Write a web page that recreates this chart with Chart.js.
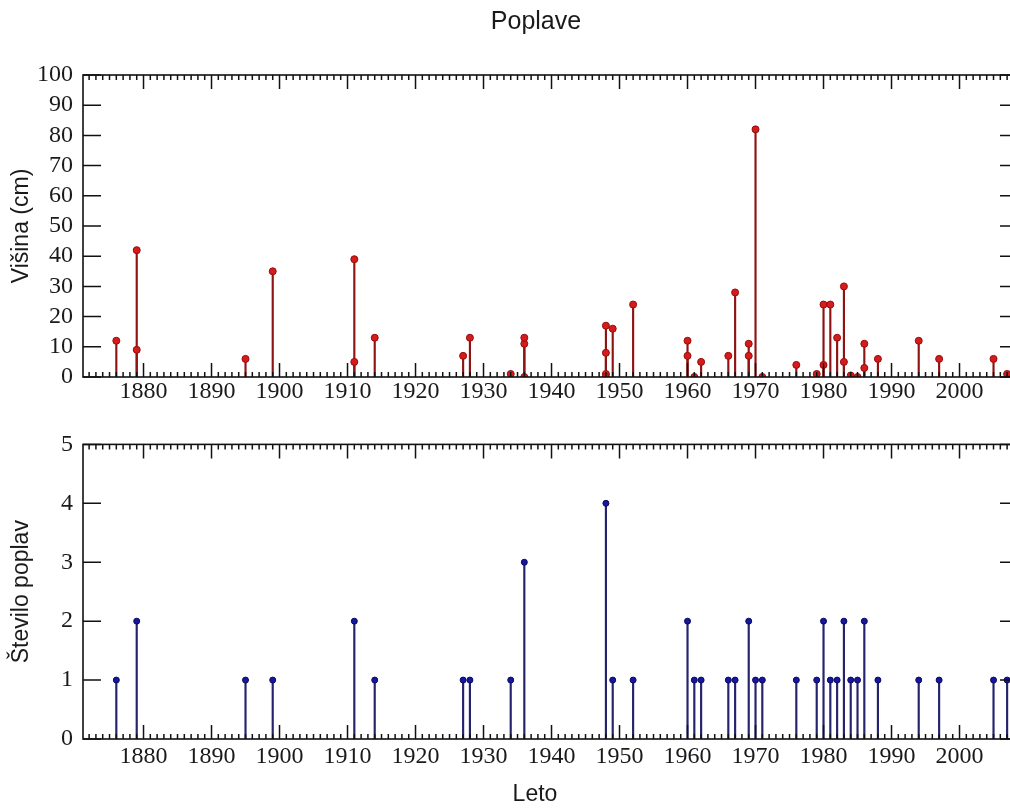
<!DOCTYPE html>
<html><head><meta charset="utf-8">
<script src="https://cdn.jsdelivr.net/npm/chart.js@4.4.1/dist/chart.umd.min.js"></script>
<style>
html,body{margin:0;padding:0;background:#fff;overflow:hidden;width:1010px;height:809px;}
#wrap{position:relative;width:1030px;height:809px;}
canvas{position:absolute;left:0;}
#c1{top:0}
#c2{top:420px}
</style></head><body>
<div id="wrap"><canvas id="c1" width="1030" height="420" style="width:1030px;height:420px"></canvas><canvas id="c2" width="1030" height="389" style="width:1030px;height:389px"></canvas></div>
<script>
// ---- data ----
const floodYears   = [1876,1879,1879,1895,1899,1911,1911,1914,1927,1928,1934,1936,1936,1936,1948,1948,1948,1948,1949,1952,1960,1960,1961,1962,1966,1967,1969,1969,1970,1971,1976,1979,1980,1980,1981,1982,1983,1983,1984,1985,1986,1986,1988,1994,1997,2005,2007];
const floodHeights = [12,42,9,6,35,39,5,13,7,13,1,0,11,13,17,8,1,0,16,24,12,7,0,5,7,28,11,7,82,0,4,1,4,24,24,13,30,5,0.5,0,11,3,6,12,6,6,1];
const countYears   = [1876,1879,1895,1899,1911,1914,1927,1928,1934,1936,1948,1949,1952,1960,1961,1962,1966,1967,1969,1970,1971,1976,1979,1980,1981,1982,1983,1984,1985,1986,1988,1994,1997,2005,2007];
const floodCounts  = [1,2,1,1,2,1,1,1,1,3,4,1,1,2,1,1,1,1,2,1,1,1,1,2,1,1,2,1,1,2,1,1,1,1,1];
const yearTicks    = [1880,1890,1900,1910,1920,1930,1940,1950,1960,1970,1980,1990,2000];
const heightTicks  = [0,10,20,30,40,50,60,70,80,90,100];
const countTicks   = [0,1,2,3,4,5];
const chartTitle = 'Poplave';
const xTitle = 'Leto';
const yTitleTop = 'Višina (cm)';
const yTitleBottom = 'Število poplav';

const framePlugin = {
  id: 'frameTicks',
  afterDatasetsDraw(chart, args, o) {
    const {ctx, chartArea: a, scales: {x, y}} = chart;
    ctx.save();
    ctx.strokeStyle = o.color; ctx.lineWidth = o.width;
    ctx.beginPath();
    for (let yr = Math.ceil(x.min); yr <= Math.floor(x.max); yr++) {
      const px = x.getPixelForValue(yr);
      const len = o.xMajor.includes(yr) ? o.majorLen : o.minorLen;
      ctx.moveTo(px, a.bottom); ctx.lineTo(px, a.bottom - len);
      ctx.moveTo(px, a.top); ctx.lineTo(px, a.top + len);
    }
    for (const v of o.yMajor) {
      const py = y.getPixelForValue(v);
      ctx.moveTo(a.left, py); ctx.lineTo(a.left + o.yLen, py);
      ctx.moveTo(a.right, py); ctx.lineTo(a.right - o.yLen, py);
    }
    ctx.stroke();
    ctx.lineWidth = o.frameWidth;
    ctx.strokeRect(a.left, a.top, a.right - a.left, a.bottom - a.top);
    ctx.restore();
  }
};
const textPlugin = {
  id: 'freeText',
  afterDraw(chart, args, o) {
    const ctx = chart.ctx;
    ctx.save();
    ctx.textAlign = 'center'; ctx.textBaseline = 'middle';
    for (const t of (o.items || [])) {
      ctx.font = t.font; ctx.fillStyle = t.color;
      ctx.fillText(t.text, t.x, t.y);
    }
    ctx.restore();
  }
};

const SERIF = '"Liberation Serif", "Times New Roman", serif';
const SANS = '"Liberation Sans", Arial, sans-serif';

function makeChart(id, cfg) {
  return new Chart(document.getElementById(id), {
    type: 'scatter',
    data: { datasets: [
      { type: 'bar', data: cfg.xs.map((v, i) => ({x: v, y: cfg.ys[i]})), backgroundColor: cfg.stem, borderWidth: 0, barThickness: cfg.stemW, order: 2 },
      { type: 'scatter', data: cfg.xs.map((v, i) => ({x: v, y: cfg.ys[i]})), backgroundColor: cfg.dot, borderColor: cfg.dotBorder, borderWidth: 1, pointRadius: cfg.r, order: 1 }
    ]},
    options: {
      responsive: false, animation: false, devicePixelRatio: 1,
      layout: { padding: { left: 0, right: 12, top: cfg.padTop, bottom: 0 } },
      plugins: {
        legend: { display: false }, tooltip: { enabled: false }, title: { display: false },
        frameTicks: { color: '#111', width: 1.5, frameWidth: 1.6, majorLen: 14, minorLen: 5, yLen: 18, xMajor: yearTicks, yMajor: cfg.yTicks },
        freeText: { items: cfg.texts }
      },
      scales: {
        x: {
          type: 'linear', min: 1871.1, max: 2008.6, offset: false,
          grid: { display: false, drawTicks: false }, border: { display: false },
          afterBuildTicks: s => { s.ticks = yearTicks.map(v => ({value: v})); },
          afterFit: s => { s.height = cfg.xH; },
          ticks: { font: { family: SERIF, size: 24 }, color: '#1a1a1a', padding: cfg.xPad, maxRotation: 0, autoSkip: false, callback: v => String(v) }
        },
        y: {
          type: 'linear', min: cfg.yTicks[0], max: cfg.yTicks[cfg.yTicks.length - 1],
          grid: { display: false, drawTicks: false }, border: { display: false },
          afterBuildTicks: s => { s.ticks = cfg.yTicks.map(v => ({value: v})); },
          afterFit: s => { s.width = 83; },
          ticks: { font: { family: SERIF, size: 24 }, color: '#1a1a1a', padding: 10, autoSkip: false, callback: v => String(v) },
          title: { display: true, text: cfg.yTitle, font: { family: SANS, size: 23 }, color: '#1a1a1a', padding: { top: 8.2, bottom: 0 } }
        }
      }
    },
    plugins: [framePlugin, textPlugin]
  });
}

makeChart('c1', {
  xs: floodYears, ys: floodHeights, yTicks: heightTicks, yTitle: yTitleTop,
  stem: '#8e1414', stemW: 1.5, dot: '#d41c1c', dotBorder: '#9a0a0a', r: 3.5,
  padTop: 75, xH: 43, xPad: 0,
  texts: [{ text: chartTitle, x: 536, y: 22, font: '25px ' + SANS, color: '#1a1a1a' }]
});
makeChart('c2', {
  xs: countYears, ys: floodCounts, yTicks: countTicks, yTitle: yTitleBottom,
  stem: '#23236e', stemW: 1.5, dot: '#1616a0', dotBorder: '#0a0a5c', r: 3,
  padTop: 18, xH: 70, xPad: 3,
  texts: [{ text: xTitle, x: 535, y: 375, font: '23px ' + SANS, color: '#1a1a1a' }]
});
</script>
</body></html>
